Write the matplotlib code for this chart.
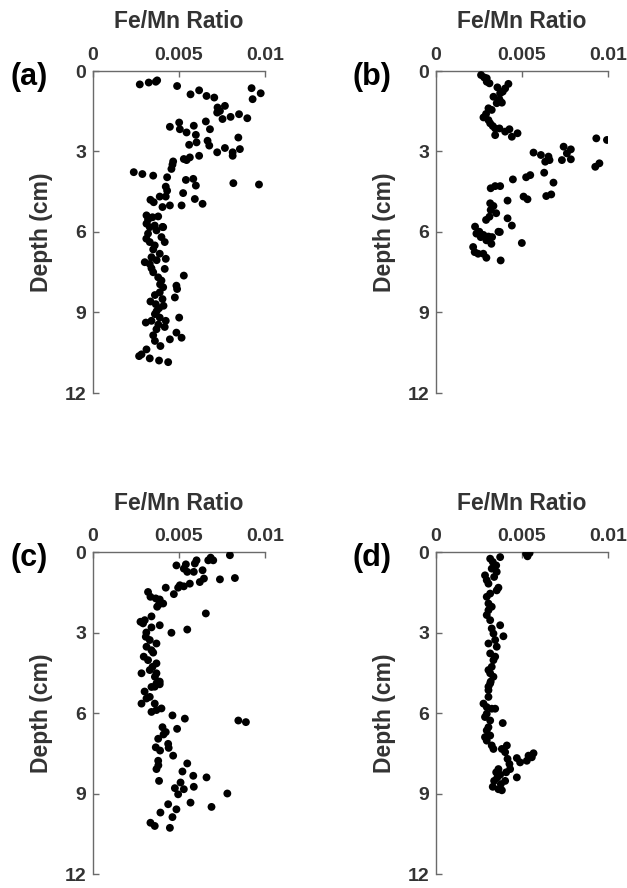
import matplotlib
matplotlib.use('Agg')
import matplotlib.pyplot as plt

plt.rcParams['font.family'] = ['Liberation Sans', 'DejaVu Sans']
plt.rcParams['font.weight'] = 'bold'

# --- core data: Fe/Mn ratio vs depth (cm) ---
a_ratio = [0.00272, 0.00324, 0.00373, 0.00365,
           0.00489, 0.00567, 0.00617, 0.0066, 0.00705, 0.00922, 0.00975, 0.00928,
           0.00724, 0.00767, 0.00738, 0.00722, 0.00753, 0.0080, 0.00849, 0.00897,
           0.00447, 0.00501, 0.00505, 0.00544, 0.00586, 0.00598, 0.00656, 0.0068, 0.00845,
           0.00559, 0.00602, 0.00666, 0.00676, 0.00722, 0.00767, 0.00812, 0.00812, 0.00854, 0.00617,
           0.00528, 0.00563, 0.00544, 0.00466, 0.00462, 0.00456,
           0.00237, 0.00287, 0.0035, 0.00431,
           0.0054, 0.00583, 0.00598, 0.00816, 0.00965,
           0.00423, 0.00431, 0.00423, 0.00524, 0.00592, 0.00637, 0.00515,
           0.00334, 0.00388, 0.00353, 0.00404, 0.00447,
           0.00311, 0.0032, 0.00346, 0.00379,
           0.00311, 0.0033, 0.00359, 0.00408,
           0.0032, 0.00369, 0.00404, 0.00398, 0.00417,
           0.0033, 0.00359, 0.00388,
           0.00301, 0.0033, 0.0034,
           0.00423, 0.00417,
           0.0035, 0.00379, 0.00398, 0.00408, 0.00388,
           0.00528,
           0.00485, 0.00489, 0.00476,
           0.00334, 0.00365, 0.00384, 0.00404,
           0.0036, 0.00388, 0.00307, 0.0034,
           0.00369, 0.00423, 0.00417, 0.00501,
           0.00485, 0.00515, 0.00447,
           0.0036, 0.00392, 0.00311, 0.00282, 0.00268, 0.0033, 0.00384, 0.00437,
           0.0031, 0.0035, 0.0037, 0.0034, 0.0039, 0.0036, 0.0041, 0.0037, 0.0038, 0.0035]
a_depth = [0.50, 0.43, 0.35, 0.40,
           0.56, 0.87, 0.72, 0.93, 0.99, 0.64, 0.83, 1.05,
           1.36, 1.30, 1.49, 1.55, 1.79, 1.71, 1.61, 1.76,
           2.08, 1.92, 2.17, 2.29, 2.04, 2.38, 1.88, 2.17, 2.48,
           2.75, 2.66, 2.60, 2.78, 3.03, 2.87, 3.16, 3.03, 2.91, 3.16,
           3.28, 3.22, 3.32, 3.37, 3.49, 3.65,
           3.77, 3.84, 3.90, 3.96,
           4.06, 4.02, 4.27, 4.18, 4.23,
           4.31, 4.46, 4.68, 4.55, 4.77, 4.95, 5.01,
           4.80, 4.68, 4.89, 5.07, 5.01,
           5.38, 5.54, 5.45, 5.42,
           5.69, 5.82, 5.76, 5.82,
           6.06, 5.94, 5.81, 6.19, 6.375,
           6.375, 6.5, 6.81,
           7.125, 7.19, 6.94,
           7.0, 7.375,
           7.5, 7.69, 7.81, 8.06, 8.25,
           7.625,
           8.0, 8.125, 8.44,
           8.59, 8.69, 8.84, 8.5,
           9.06, 9.19, 9.375, 9.31,
           9.625, 9.31, 9.54, 9.19,
           9.75, 9.94, 10.0,
           10.06, 10.25, 10.375, 10.56, 10.625, 10.71, 10.79, 10.85,
           6.25, 6.65, 7.05, 7.35, 7.95, 8.35, 8.75, 8.95, 9.45, 9.85]

b_ratio = [0.00262, 0.0028, 0.00295, 0.00311, 0.00295,
           0.00357, 0.00388, 0.00421, 0.00402, 0.00373,
           0.00334, 0.00369, 0.00353, 0.00383,
           0.00305, 0.00324, 0.00291, 0.00276,
           0.00305, 0.00315, 0.0033, 0.00344,
           0.00369, 0.00344, 0.00402, 0.00427, 0.00441, 0.00474,
           0.00932, 0.00994, 0.00926, 0.0095,
           0.00567, 0.0061, 0.00654, 0.0066, 0.00635,
           0.00742, 0.00784, 0.00761, 0.00732, 0.00784,
           0.00629, 0.00683,
           0.00524, 0.00548, 0.00447,
           0.00318, 0.00344, 0.00373,
           0.00416, 0.00509, 0.00532, 0.00641, 0.0067,
           0.00315, 0.00334, 0.0035, 0.00318,
           0.00291, 0.00311, 0.00416, 0.00441,
           0.00227, 0.00252, 0.00276, 0.00305, 0.00363,
           0.00235, 0.0026, 0.00293, 0.00322, 0.00326, 0.00371,
           0.00216, 0.00225, 0.00245, 0.00275, 0.00293, 0.00376, 0.00499]
b_depth = [0.15, 0.24, 0.27, 0.46, 0.40,
           0.61, 0.77, 0.48, 0.65, 0.83,
           0.96, 1.06, 1.2, 1.18,
           1.39, 1.45, 1.6, 1.73,
           1.83, 1.95, 2.05, 2.14,
           2.14, 2.39, 2.26, 2.17, 2.45, 2.32,
           2.51, 2.57, 3.57, 3.44,
           3.04, 3.13, 3.19, 3.32, 3.38,
           2.82, 2.92, 3.07, 3.32, 3.29,
           3.79, 4.16,
           3.96, 3.88, 4.04,
           4.37, 4.29, 4.29,
           4.83, 4.68, 4.78, 4.66, 4.60,
           4.93, 5.03, 5.30, 5.18,
           5.55, 5.43, 5.49, 5.76,
           5.80, 5.99, 6.11, 6.17, 5.99,
           6.06, 6.19, 6.31, 6.44, 6.19, 6.0,
           6.56, 6.75, 6.81, 6.81, 6.96, 7.06, 6.41]

c_ratio = [0.00796, 0.0067, 0.00699, 0.00684, 0.00602, 0.00592,
           0.00485, 0.0054, 0.00528, 0.00548, 0.00586, 0.00637, 0.00645, 0.00621,
           0.00738, 0.00825,
           0.00563, 0.00505, 0.00528, 0.00495,
           0.00423, 0.0047, 0.0032, 0.00334,
           0.00365, 0.00388, 0.00384, 0.00373, 0.00408,
           0.00656,
           0.00301, 0.00276, 0.00291, 0.00388, 0.0034,
           0.00456, 0.00548,
           0.00307, 0.0033, 0.00311, 0.0034, 0.00369,
           0.00295, 0.0032, 0.00369, 0.00346, 0.00282, 0.00369, 0.00388, 0.00359,
           0.0034, 0.00369, 0.00388, 0.00282, 0.00311, 0.0033, 0.00359, 0.0034, 0.00369, 0.00398,
           0.00462, 0.00489, 0.00534,
           0.00845, 0.00889,
           0.00404, 0.00379, 0.00423, 0.00437, 0.00466,
           0.00365, 0.00379, 0.00369,
           0.00384,
           0.00548, 0.0052, 0.00583, 0.00586,
           0.0066,
           0.00476, 0.00495, 0.00528, 0.00509,
           0.00781,
           0.00567, 0.00689, 0.00437, 0.00485,
           0.00392, 0.00462, 0.00334, 0.00359, 0.00447,
           0.0031, 0.0035, 0.0033, 0.0036, 0.003, 0.0034,
           0.0041, 0.0039, 0.0044, 0.0038]
c_depth = [0.12, 0.31, 0.31, 0.21, 0.31, 0.43,
           0.50, 0.46, 0.62, 0.74, 0.74, 0.68, 0.99, 1.12,
           1.02, 0.97,
           1.18, 1.24, 1.28, 1.33,
           1.33, 1.57, 1.49, 1.67,
           1.73, 1.77, 1.95, 2.04, 1.92,
           2.29,
           2.54, 2.60, 2.66, 2.73, 2.81,
           3.01, 2.89,
           3.16, 3.28, 3.53, 3.66, 3.41,
           3.90, 4.03, 4.15, 4.28, 4.52, 4.52, 4.83, 5.02,
           5.03, 4.90, 4.93, 5.65, 5.46, 5.40, 5.65, 5.96, 5.89, 5.83,
           6.09, 6.59, 6.21,
           6.28, 6.34,
           6.53, 6.96, 6.71, 7.15, 7.59,
           7.28, 7.78, 8.09,
           8.53,
           7.88, 8.18, 8.34, 8.75,
           8.40,
           8.8, 9.03, 8.84, 8.59,
           9.0,
           9.34, 9.5, 9.4, 9.59,
           9.71, 9.88, 10.09, 10.21, 10.28,
           3.0, 3.75, 4.4, 4.65, 5.2, 2.4,
           6.8, 7.4, 7.3, 7.95]

d_ratio = [0.00524, 0.00544, 0.00532,
           0.00373, 0.00315, 0.0033, 0.0035,
           0.00353, 0.00338, 0.00295, 0.00305, 0.00363, 0.00353, 0.00315, 0.00295,
           0.00305, 0.00324, 0.00295, 0.00315, 0.00373, 0.00392, 0.00324, 0.00344,
           0.00353, 0.00315, 0.00334, 0.00324, 0.00315, 0.00318, 0.00305,
           0.00285, 0.00324, 0.00305, 0.00334, 0.00305, 0.00344, 0.00305, 0.00334,
           0.00315, 0.00305, 0.00276, 0.00295, 0.00324, 0.00344, 0.00285, 0.00315,
           0.00388, 0.00295, 0.00315, 0.00295, 0.00324, 0.00334, 0.00383, 0.00412,
           0.00402, 0.00416, 0.00427, 0.0047, 0.00489, 0.00528, 0.00557, 0.00567,
           0.00538, 0.00363, 0.0035, 0.00373, 0.00408, 0.00431, 0.0047, 0.00338,
           0.0033, 0.00363, 0.00377, 0.00402,
           0.00305, 0.00295, 0.00305, 0.00285, 0.00357, 0.00383]
d_depth = [0.06, 0.04, 0.16,
           0.19, 0.25, 0.37, 0.50,
           0.74, 0.93, 1.05, 1.18, 1.33, 1.43, 1.55, 1.67,
           1.92, 2.04, 2.35, 2.54, 2.73, 3.14, 2.85, 3.28,
           3.53, 3.78, 4.03, 4.28, 4.52, 4.83, 5.02,
           0.87, 0.62, 2.17, 3.04, 3.41, 3.90, 4.40, 4.65,
           4.90, 5.15, 5.65, 5.78, 5.84, 5.84, 6.15, 6.28,
           6.375, 6.65, 6.84, 7.03, 7.21, 7.34, 7.34, 7.21,
           7.46, 7.71, 7.90, 7.68, 7.84, 7.78, 7.65, 7.5,
           7.59, 8.09, 8.21, 8.30, 8.21, 8.09, 8.40, 8.53,
           8.75, 8.84, 8.65, 8.53,
           5.40, 6.03, 6.53, 6.9, 8.40, 8.88]

panels = [('(a)', a_ratio, a_depth), ('(b)', b_ratio, b_depth),
          ('(c)', c_ratio, c_depth), ('(d)', d_ratio, d_depth)]
x_ticks = [0, 0.005, 0.01]
x_tick_labels = ['0', '0.005', '0.01']
y_ticks = [0, 3, 6, 9, 12]

W, H = 627, 888
fig = plt.figure(figsize=(W / 100, H / 100), dpi=100)

# axes boxes in pixels: left, top
boxes = [(93, 71), (436, 71), (93, 552), (436, 552)]
aw, ah = 172, 322

spine_col = '#6a6a6a'
text_col = '#333333'

for (tag, ratio, depth), (left, top) in zip(panels, boxes):
    ax = fig.add_axes([left / W, 1 - (top + ah) / H, aw / W, ah / H])
    ax.scatter(ratio, depth, s=32, color='black', edgecolors='none', zorder=3)
    ax.set_xlim(0, 0.01)
    ax.set_ylim(12, 0)
    ax.set_xticks(x_ticks)
    ax.set_xticklabels(x_tick_labels)
    ax.set_yticks(y_ticks)
    ax.xaxis.tick_top()
    for s in ['right', 'bottom']:
        ax.spines[s].set_visible(False)
    for s in ['left', 'top']:
        ax.spines[s].set_color(spine_col)
        ax.spines[s].set_linewidth(1.0)
    ax.tick_params(direction='in', length=4, width=1.0, color=spine_col,
                   labelcolor=text_col, labelsize=14, pad=5)
    for lab in ax.get_xticklabels() + ax.get_yticklabels():
        lab.set_fontweight('bold')
    ax.set_ylabel('Depth (cm)', fontsize=16.5, fontweight='bold', color=text_col)
    ax.yaxis.set_label_coords(-40 / aw, 0.5)
    ax.text(0.5, 1 + 49 / ah, 'Fe/Mn Ratio', transform=ax.transAxes,
            ha='center', va='center', fontsize=16.5, fontweight='bold', color=text_col)
    ax.text(-45 / aw, 1 - 6 / ah, tag, transform=ax.transAxes,
            ha='right', va='center', fontsize=22, fontweight='bold', color='black')

fig.savefig('out.png', dpi=100)
